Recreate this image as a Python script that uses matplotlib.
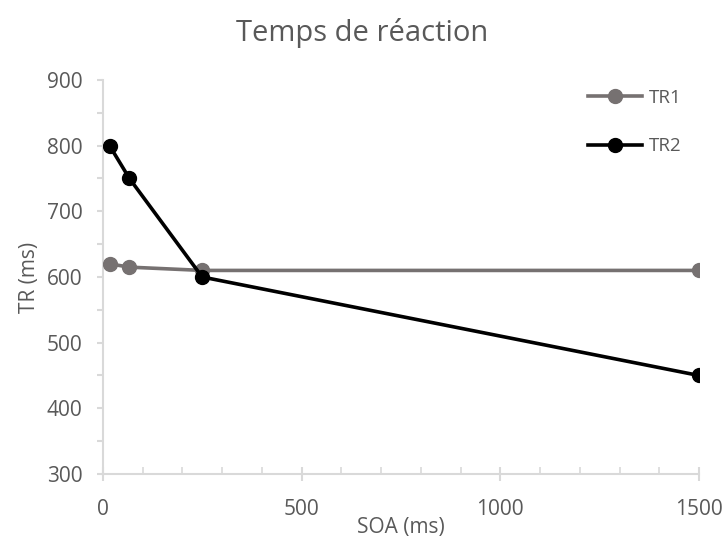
import numpy as np
import matplotlib.pyplot as plt
from matplotlib.ticker import MultipleLocator

# Données
soa = [17, 67, 250, 1500]
tr1 = [620, 615, 610, 610]
tr2 = [800, 750, 600, 450]

text_color = '#595959'
axis_color = '#D9D9D9'

plt.rcParams['font.family'] = ['Open Sans', 'DejaVu Sans']

fig = plt.figure(figsize=(7.24, 5.39), dpi=100)
ax = fig.add_axes([0.142, 0.1206, 0.8235, 0.731])

ax.plot(soa, tr1, color='#767171', linewidth=2.6, marker='o', markersize=10, label='TR1', zorder=3)
ax.plot(soa, tr2, color='black', linewidth=2.6, marker='o', markersize=10, label='TR2', zorder=4)

ax.set_xlim(0, 1500)
ax.set_ylim(300, 900)
ax.xaxis.set_major_locator(MultipleLocator(500))
ax.xaxis.set_minor_locator(MultipleLocator(100))
ax.yaxis.set_major_locator(MultipleLocator(100))
ax.yaxis.set_minor_locator(MultipleLocator(50))

for side in ['top', 'right']:
    ax.spines[side].set_visible(False)
for side in ['left', 'bottom']:
    ax.spines[side].set_color(axis_color)
    ax.spines[side].set_linewidth(1.5)

ax.tick_params(axis='x', which='major', direction='inout', length=10, width=1.5, color=axis_color,
               labelcolor=text_color, labelsize=15, pad=13)
ax.tick_params(axis='x', which='minor', direction='in', length=5, width=1.2, color=axis_color)
ax.tick_params(axis='y', which='both', direction='out', length=4.5, width=1.5, color=axis_color,
               labelcolor=text_color, labelsize=15, pad=10)

ax.set_xlabel('SOA (ms)', color=text_color, fontsize=15, labelpad=-2)
ax.set_ylabel('TR (ms)', color=text_color, fontsize=15, labelpad=5)
fig.text(0.5, 0.939, 'Temps de réaction', color=text_color, fontsize=21, ha='center', va='center')

leg = fig.legend(loc='upper left', bbox_to_anchor=(0.812, 0.835), frameon=False, fontsize=13.5,
                 labelspacing=1.62, handlelength=2.9, handletextpad=0.37, labelcolor=text_color,
                 borderaxespad=0, borderpad=0)

fig.savefig('out.png', dpi=100)
